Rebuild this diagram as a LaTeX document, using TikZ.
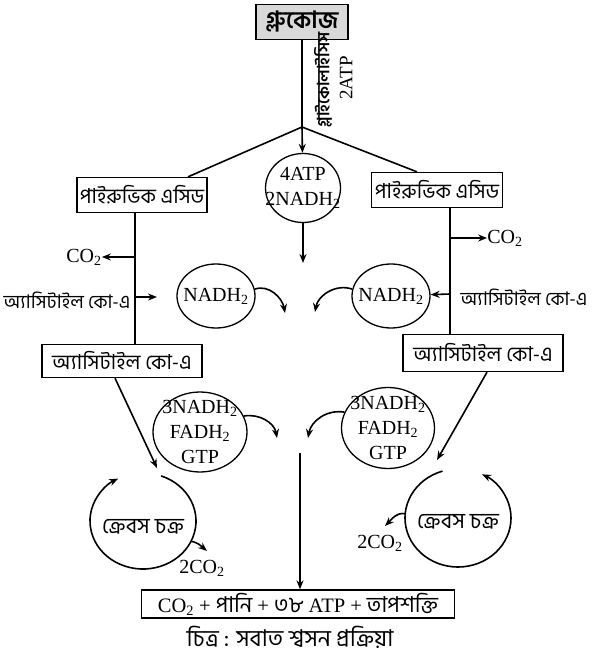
\documentclass[tikz,border=0pt]{standalone}
\usepackage{fontspec}
\setmainfont{Liberation Serif}
\newfontfamily\bn[Script=Bengali,Scale=1.25]{Hind Siliguri}
\newcommand\bnres[1]{{\bn\fontsize{17.5}{18}\selectfont #1}}
\usetikzlibrary{arrows.meta,shapes.geometric}

\begin{document}
\begin{tikzpicture}[x=1pt,y=-1pt,
  bx/.style={draw,line width=1.3pt,inner sep=0pt,font=\bn\fontsize{16.5}{18}\selectfont},
  cir/.style={draw,ellipse,line width=1.3pt,inner sep=0pt},
  lat/.style={font=\fontsize{20}{25}\selectfont,align=center,inner sep=0pt},
  lbl/.style={font=\bn\fontsize{15}{17}\selectfont,inner sep=0pt},
  ln/.style={line width=1.6pt},
  arr/.style={line width=1.6pt,-{Stealth[length=9pt,width=7pt]}}]
  \useasboundingbox (0,0) rectangle (597,661);

  \node[bx,fill=gray!30,minimum width=92pt,minimum height=35pt,font=\bn\bfseries\fontsize{19}{20}\selectfont] (glu) at (302,22) {গ্লুকোজ};
  \node[rotate=90,inner sep=0pt,font=\bn\bfseries\fontsize{13.5}{14}\selectfont] (gly) at (323,80) {গ্লাইকোলাইসিস};
  \node[rotate=90,lat,font=\fontsize{19}{20}\selectfont] (atp2) at (346,78) {2ATP};
  \coordinate (j) at (302,127);

  \node[cir,minimum width=75pt,minimum height=69pt,label={[lat]center:4ATP\\2NADH\textsubscript{2}}] (atp) at (303,188) {};
  \coordinate (c1) at (303,263);

  \node[bx,minimum width=130pt,minimum height=35pt] (pyrL) at (142,195) {পাইরুভিক এসিড};
  \node[bx,minimum width=131pt,minimum height=35pt] (pyrR) at (437,190) {পাইরুভিক এসিড};
  \node[bx,minimum width=160pt,minimum height=33pt] (acL) at (122,361) {অ্যাসিটাইল কো-এ};
  \node[bx,minimum width=160pt,minimum height=37pt] (acR) at (483,353) {অ্যাসিটাইল কো-এ};

  \node[lat] (co2L) at (84,257) {CO\textsubscript{2}};
  \node[lat] (co2R) at (505,238) {CO\textsubscript{2}};
  \node[lbl] (acLt) at (67,300) {অ্যাসিটাইল কো-এ};
  \node[lbl] (acRt) at (524,297) {অ্যাসিটাইল কো-এ};
  \coordinate (bL1) at (135,257);
  \coordinate (bL2) at (135,297);
  \coordinate (tL) at (157,297);
  \coordinate (bR1) at (450,238);
  \coordinate (bR2) at (450,294);

  \node[cir,minimum width=78pt,minimum height=64pt,label={[lat]center:NADH\textsubscript{2}}] (nadhL) at (216,296) {};
  \node[cir,minimum width=78pt,minimum height=64pt,label={[lat]center:NADH\textsubscript{2}}] (nadhR) at (391,296) {};
  \coordinate (eL) at (285,313);
  \coordinate (eR) at (315,312);

  \node[cir,minimum width=94pt,minimum height=80pt,label={[lat]center:3NADH\textsubscript{2}\\FADH\textsubscript{2}\\GTP}] (frL) at (200,432) {};
  \node[cir,minimum width=93pt,minimum height=81pt,label={[lat]center:3NADH\textsubscript{2}\\FADH\textsubscript{2}\\GTP}] (frR) at (388,428) {};
  \coordinate (eL2) at (277,438);
  \coordinate (eR2) at (308,438);
  \coordinate (cM) at (300,453);

  \coordinate (kcL) at (143,521);
  \coordinate (kcR) at (458,518);
  \node[lbl,font=\bn\fontsize{17.5}{19}\selectfont] (krL) at (143,527) {ক্রেবস চক্র};
  \node[lbl,font=\bn\fontsize{17.5}{19}\selectfont] (krR) at (458,522) {ক্রেবস চক্র};
  \coordinate (kL) at (157,468);
  \coordinate (kR) at (437,460);
  \node[lat] (co2kL) at (202,568) {2CO\textsubscript{2}};
  \node[lat] (co2kR) at (380,543) {2CO\textsubscript{2}};
  \coordinate (dL) at (207,551);
  \coordinate (dR) at (385,526);

  \node[draw,line width=1.3pt,minimum width=313pt,minimum height=28pt,inner sep=0pt,font=\fontsize{20.5}{22}\selectfont] (res) at (298,604) {CO\textsubscript{2} + \bnres{পানি} + \bnres{৩৮} ATP + \bnres{তাপশক্তি}};
  \node[lbl,font=\bn\fontsize{18.5}{20}\selectfont] (cap) at (290,637) {চিত্র : সবাত শ্বসন প্রক্রিয়া};

  \draw[ln] (glu) -- (j);
  \draw[arr] (j) -- (atp);
  \draw[ln] (j) -- ([xshift=46pt]pyrL.north);
  \draw[ln] (j) -- ([xshift=-20pt]pyrR.north);
  \draw[arr] (atp) -- (c1);

  \draw[ln] ([xshift=-7pt]pyrL.south) -- ([xshift=-7pt]pyrL.south |- acL.north);
  \draw[arr] (bL1) -- (co2L);
  \draw[arr] (bL2) -- (tL);
  \draw[ln] ([xshift=13pt]pyrR.south) -- ([xshift=13pt]pyrR.south |- acR.north);
  \draw[arr] (bR1) -- (co2R);
  \draw[arr] (bR2) -- (nadhR);

  \draw[arr] (nadhL.10) to[out=20,in=100] (eL);
  \draw[arr] (nadhR.170) to[out=160,in=80] (eR);
  \draw[arr] (frL.20) to[out=10,in=100] (eL2);
  \draw[arr] (frR.160) to[out=170,in=80] (eR2);
  \draw[arr] (cM) -- (cM |- res.north);

  \draw[arr] ([xshift=-7pt]acL.south) -- (kL);
  \draw[arr] ([xshift=4pt]acR.south) -- (kR);
  \draw[arr] ([shift={(-70:53 and 48)}]kcL) arc[start angle=-70,end angle=242,x radius=53,y radius=48];
  \draw[arr] ([shift={(-107:53 and 49)}]kcR) arc[start angle=-107,end angle=-423,x radius=53,y radius=49];
  \draw[arr] ([shift={(25:53 and 48)}]kcL) to[out=-10,in=140] (dL);
  \draw[arr] ([shift={(-175:53 and 49)}]kcR) to[out=170,in=45] (dR);
\end{tikzpicture}
\end{document}
